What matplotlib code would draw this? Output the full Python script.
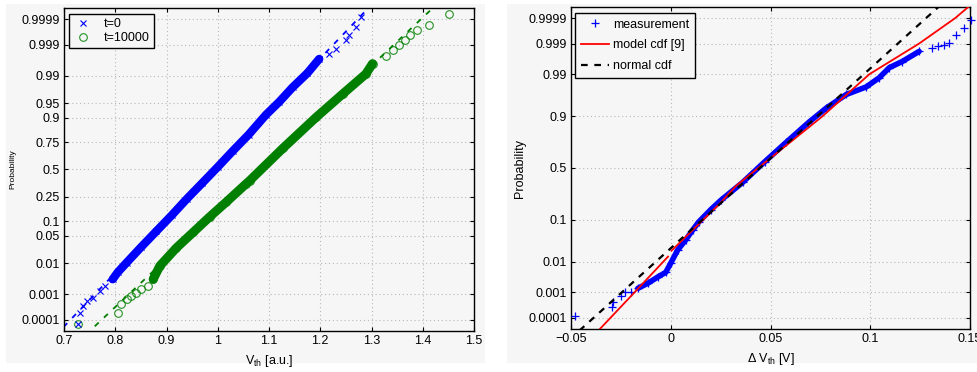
import math
from statistics import NormalDist
import numpy as np
import matplotlib
matplotlib.use("Agg")
import matplotlib.pyplot as plt
from matplotlib.patches import Rectangle
from matplotlib.ticker import FixedLocator, FixedFormatter, NullLocator

plt.rcParams['font.family'] = ['Liberation Sans', 'DejaVu Sans']
plt.rcParams['mathtext.fontset'] = 'custom'
plt.rcParams['mathtext.rm'] = 'Liberation Sans'
plt.rcParams['mathtext.it'] = 'Liberation Sans:italic'

# ---- left panel: V_th at t=0 and t=10000 ----
t0_core_x = [0.795, 0.805, 0.822, 0.850, 0.880, 0.910, 0.940, 0.970, 1.000, 1.030, 1.060,
             1.094, 1.120, 1.146, 1.175, 1.198]
t0_core_p = [0.0033, 0.0055, 0.0105, 0.027, 0.063, 0.128, 0.235, 0.37, 0.525, 0.68, 0.805,
             0.912, 0.953, 0.979, 0.9915, 0.9969]
t0_tail_x = [0.728, 0.731, 0.7376, 0.744, 0.757, 0.770, 0.780,
             1.2175, 1.2305, 1.250, 1.2565, 1.2695, 1.279]
t0_tail_p = [6.4e-5, 2.0e-4, 3.6e-4, 5.6e-4, 7.6e-4, 1.3e-3, 2.0e-3,
             0.9979, 0.9986, 0.99931, 0.99955, 0.99979, 0.99992]
t0_fit_x = [0.699, 1.295]
t0_fit_p = [4.8e-5, 0.99997]

t1_core_x = [0.874, 0.887, 0.919, 0.952, 0.984, 1.0165, 1.055, 1.062, 1.127, 1.192, 1.2435, 1.289, 1.302]
t1_core_p = [0.0033, 0.0085, 0.026, 0.060, 0.120, 0.21, 0.36, 0.39, 0.70, 0.902, 0.969, 0.991, 0.9956]
t1_tail_x = [0.728, 0.8057, 0.812, 0.822, 0.831, 0.841, 0.851, 0.864,
             1.328, 1.341, 1.354, 1.366, 1.376, 1.389, 1.412, 1.451]
t1_tail_p = [6.4e-5, 2.0e-4, 4.2e-4, 6.6e-4, 8.7e-4, 1.15e-3, 1.5e-3, 2.0e-3,
             0.9976, 0.9984, 0.99893, 0.99931, 0.99955, 0.99971, 0.99983, 0.99994]
t1_fit_x = [0.760, 1.4185]
t1_fit_p = [5.2e-5, 0.999966]

left_yticks = [0.0001, 0.001, 0.01, 0.05, 0.1, 0.25, 0.5, 0.75, 0.9, 0.95, 0.99, 0.999, 0.9999]
left_xticks = [0.7, 0.8, 0.9, 1.0, 1.1, 1.2, 1.3, 1.4, 1.5]
left_xlabels = ['0.7', '0.8', '0.9', '1', '1.1', '1.2', '1.3', '1.4', '1.5']

# ---- right panel: Delta V_th ----
meas_core_x = [-0.0165, -0.0115, -0.0065, -0.0025, 0.0, 0.0035, 0.0075, 0.011, 0.014, 0.020, 0.025,
               0.036, 0.047, 0.058, 0.069, 0.078, 0.088, 0.098, 0.1045, 0.1095, 0.116, 0.1245]
meas_core_p = [1.4e-3, 2.1e-3, 3.4e-3, 4.8e-3, 9.1e-3, 0.021, 0.037, 0.062, 0.09, 0.15, 0.21,
               0.36, 0.56, 0.74, 0.87, 0.932, 0.966, 0.978, 0.9875, 0.9936, 0.9959, 0.9981]
meas_tail_x = [-0.048, -0.0295, -0.029, -0.025, -0.023, -0.020,
               0.131, 0.134, 0.137, 0.1395, 0.143, 0.147, 0.1505]
meas_tail_p = [1.2e-4, 2.7e-4, 4.3e-4, 7.4e-4, 1.0e-3, 1.0e-3,
               0.9986, 0.9988, 0.9989, 0.99906, 0.99953, 0.99975, 0.99988]
model_x = [-0.0363, -0.0182, -0.00135, np.nan, 0.00035, 0.0245, 0.0328, 0.076, 0.0995, 0.1245, 0.1425, 0.1495]
model_p = [2.7e-5, 1e-3, 0.0139, np.nan, 0.020, 0.187, 0.33, 0.9, 0.99, 0.999, 0.9999, 0.99997]
normal_x = [-0.0458, 0.1345]
normal_p = [2.7e-5, 0.99997]

right_yticks = [0.0001, 0.001, 0.01, 0.1, 0.5, 0.9, 0.99, 0.999, 0.9999]
right_xticks = [-0.05, 0.0, 0.05, 0.1, 0.15]
right_xlabels = ['\u22120.05', '0', '0.05', '0.1', '0.15']

nd = NormalDist()


def fwd(p):
    p = np.asarray(p, dtype=float)
    out = np.full(p.shape, np.nan)
    ok = (p > 0) & (p < 1)
    out[ok] = [nd.inv_cdf(v) for v in p[ok]]
    return out


def inv(z):
    z = np.asarray(z, dtype=float)
    return 0.5 * (1 + np.vectorize(math.erf)(z / math.sqrt(2)))


BG = '#f6f6f6'
BLUE = '#0000ff'
GREEN = '#007f00'

fig = plt.figure(figsize=(9.77, 3.72), dpi=100, facecolor='white')
W, H = 977, 372
fig.patches.append(Rectangle((6 / W, 1 - 363 / H), 479 / W, 359 / H, transform=fig.transFigure,
                             facecolor=BG, edgecolor='none', zorder=-10))
fig.patches.append(Rectangle((507 / W, 1 - 363 / H), 470 / W, 359 / H, transform=fig.transFigure,
                             facecolor=BG, edgecolor='none', zorder=-10))

ax1 = fig.add_axes([64 / W, 1 - 331 / H, 410 / W, 323 / H])
ax2 = fig.add_axes([571 / W, 1 - 329 / H, 399 / W, 322 / H])


def style(ax, yticks, xticks, xlabels):
    ax.set_facecolor(BG)
    ax.set_yscale('function', functions=(fwd, inv))
    ax.set_ylim(3.2e-5, 1 - 3.2e-5)
    ax.yaxis.set_major_locator(FixedLocator(yticks))
    ax.yaxis.set_major_formatter(FixedFormatter([('%g' % v) for v in yticks]))
    ax.yaxis.set_minor_locator(NullLocator())
    ax.set_xticks(xticks)
    ax.set_xticklabels(xlabels)
    ax.tick_params(direction='in', length=3, width=0.8, top=True, right=True,
                   labelsize=9, pad=3)
    ax.grid(True, color='#b8b8b8', linestyle=(0, (1, 2.5)), linewidth=0.8)
    for s in ax.spines.values():
        s.set_linewidth(1.0)


# left
style(ax1, left_yticks, left_xticks, left_xlabels)
ax1.set_xlim(0.7, 1.5)
ax1.plot(t0_core_x, t0_core_p, color=BLUE, lw=6, solid_capstyle='round', zorder=3)
ax1.plot(t1_core_x, t1_core_p, color=GREEN, lw=6.5, solid_capstyle='round', zorder=3)
ax1.plot(t0_core_x + t0_tail_x, t0_core_p + t0_tail_p, 'x', color=BLUE, ms=4, mew=0.8,
         label='t=0', zorder=4)
ax1.plot(t1_core_x + t1_tail_x, t1_core_p + t1_tail_p, 'o', color=GREEN, mfc='none', ms=5.5,
         mew=0.8, alpha=0.85, label='t=10000', zorder=3)
ax1.plot(t0_fit_x, t0_fit_p, '--', color=BLUE, lw=1.3, dashes=(3, 4), zorder=2)
ax1.plot(t1_fit_x, t1_fit_p, '--', color=GREEN, lw=1.3, dashes=(3, 4), zorder=2)
ax1.set_xlabel(r'V$_{\mathrm{th}}$ [a.u.]', fontsize=9, labelpad=4)
ax1.set_ylabel('Probability', fontsize=6, labelpad=4)
leg1 = ax1.legend(loc='upper left', bbox_to_anchor=(0.012, 0.981), borderaxespad=0,
                  fontsize=9, frameon=True, fancybox=False, edgecolor='black',
                  handlelength=1.6, handletextpad=0.9, labelspacing=0.2, borderpad=0.3)
leg1.get_frame().set_linewidth(1.0)
leg1.get_frame().set_facecolor(BG)
leg1.get_frame().set_alpha(1)

# right
style(ax2, right_yticks, right_xticks, right_xlabels)
ax2.set_xlim(-0.05, 0.15)
ax2.plot(meas_core_x, meas_core_p, color=BLUE, lw=4, solid_capstyle='round', zorder=3)
ax2.plot(meas_core_x + meas_tail_x, meas_core_p + meas_tail_p, '+', color=BLUE, ms=6, mew=0.9,
         label='measurement', zorder=3, clip_on=False)
ax2.plot(model_x, model_p, '-', color='#ff0000', lw=1.3, label='model cdf [9]', zorder=4)
ax2.plot(normal_x, normal_p, '--', color='black', lw=1.6, dashes=(3, 3), label='normal cdf', zorder=5)
ax2.set_xlabel(r'$\Delta$ V$_{\mathrm{th}}$ [V]', fontsize=9, labelpad=4)
ax2.set_ylabel('Probability', fontsize=9, labelpad=2)
leg2 = ax2.legend(loc='upper left', bbox_to_anchor=(0.010, 0.981), borderaxespad=0,
                  fontsize=9, frameon=True, fancybox=False, edgecolor='black',
                  handlelength=2.3, handletextpad=0.3, labelspacing=0.7, borderpad=0.45)
leg2.get_frame().set_linewidth(1.0)
leg2.get_frame().set_facecolor(BG)
leg2.get_frame().set_alpha(1)

fig.savefig('out.png', dpi=100, facecolor='white')
